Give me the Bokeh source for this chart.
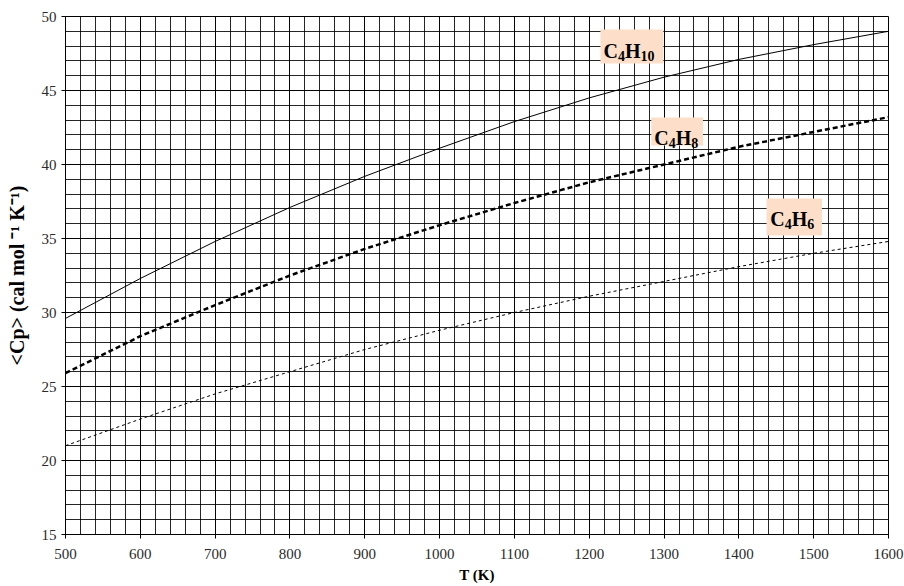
from bokeh.plotting import figure
from bokeh.models import Label, BoxAnnotation, SingleIntervalTicker, Range1d
from bokeh.embed import file_html
from bokeh.resources import INLINE

T = [500, 600, 700, 800, 900, 1000, 1100, 1200, 1300, 1400, 1500, 1600]
cp_c4h10 = [29.6, 32.3, 34.8, 37.1, 39.2, 41.1, 42.9, 44.5, 45.9, 47.1, 48.1, 49.0]
cp_c4h8 = [25.9, 28.4, 30.5, 32.5, 34.3, 35.9, 37.4, 38.8, 40.0, 41.2, 42.2, 43.2]
cp_c4h6 = [21.0, 22.8, 24.5, 26.0, 27.5, 28.8, 30.0, 31.1, 32.1, 33.1, 34.0, 34.8]

FONT = "Liberation Serif"

p = figure(width=904, height=586, output_backend="svg", toolbar_location=None,
           x_range=Range1d(500, 1600), y_range=Range1d(15, 50),
           min_border_left=65, min_border_right=16, min_border_top=16, min_border_bottom=52)
p.frame_width = 823
p.frame_height = 518
p.background_fill_color = "white"
p.border_fill_color = "white"
p.outline_line_color = "black"
p.outline_line_width = 1

p.xaxis.ticker = SingleIntervalTicker(interval=100, num_minor_ticks=5)
p.yaxis.ticker = SingleIntervalTicker(interval=5, num_minor_ticks=5)
for g in (p.xgrid, p.ygrid):
    g.grid_line_color = "black"
    g.grid_line_width = 1
    g.minor_grid_line_color = "black"
    g.minor_grid_line_width = 1
    g.grid_line_alpha = 0.9
    g.minor_grid_line_alpha = 0.85

for ax in (p.xaxis, p.yaxis):
    ax.axis_line_color = "black"
    ax.major_tick_line_color = "black"
    ax.major_tick_out = 4
    ax.major_tick_in = 0
    ax.minor_tick_line_color = None
    ax.major_label_text_font = FONT
    ax.major_label_text_font_size = "15px"
    ax.major_label_text_color = "#2a2a2a"
    ax.axis_label_text_font = FONT
    ax.axis_label_text_font_style = "bold"
    ax.axis_label_text_color = "black"

p.xaxis.axis_label = "T (K)"
p.xaxis.axis_label_text_font_size = "15px"
p.yaxis.axis_label = "<Cp> (cal mol \u207b\u00b9 K\u207b\u00b9)"
p.yaxis.axis_label_text_font_size = "20px"
p.xaxis.major_label_standoff = 10
p.xaxis.axis_label_standoff = 5
p.yaxis.major_label_standoff = 5
p.yaxis.axis_label_standoff = 11

p.line(T, cp_c4h10, line_color="black", line_width=1)
p.line(T, cp_c4h8, line_color="black", line_width=2.5, line_dash="5 3")
p.line(T, cp_c4h6, line_color="black", line_width=1, line_dash="3 3")

BOX = "#FDDFC9"
boxes = [(1215, 1299, 46.82, 49.12), (1283, 1352, 41.28, 43.18), (1437, 1511, 35.2, 37.7)]
for l, r, b, t in boxes:
    p.add_layout(BoxAnnotation(left=l, right=r, bottom=b, top=t, fill_color=BOX,
                               fill_alpha=1, line_color=None, level="overlay"))

def formula(x, y, parts):
    off = 0.0
    for txt, size, sub in parts:
        p.add_layout(Label(x=x, y=y, x_offset=off, y_offset=-5 if sub else 0, text=txt,
                           text_font=FONT, text_font_style="bold",
                           text_font_size=f"{size}px", text_color="black",
                           text_baseline="alphabetic", text_align="left", level="overlay"))
        w = {"C": 0.722, "H": 0.778}.get(txt, 0.5 * len(txt))
        off += w * size

formula(1219, 47.7, [("C", 20, False), ("4", 14, True), ("H", 20, False), ("10", 14, True)])
formula(1287, 41.82, [("C", 20, False), ("4", 14, True), ("H", 20, False), ("8", 14, True)])
formula(1442, 36.35, [("C", 20, False), ("4", 14, True), ("H", 20, False), ("6", 14, True)])

open("out.html", "w").write(file_html(p, INLINE))
